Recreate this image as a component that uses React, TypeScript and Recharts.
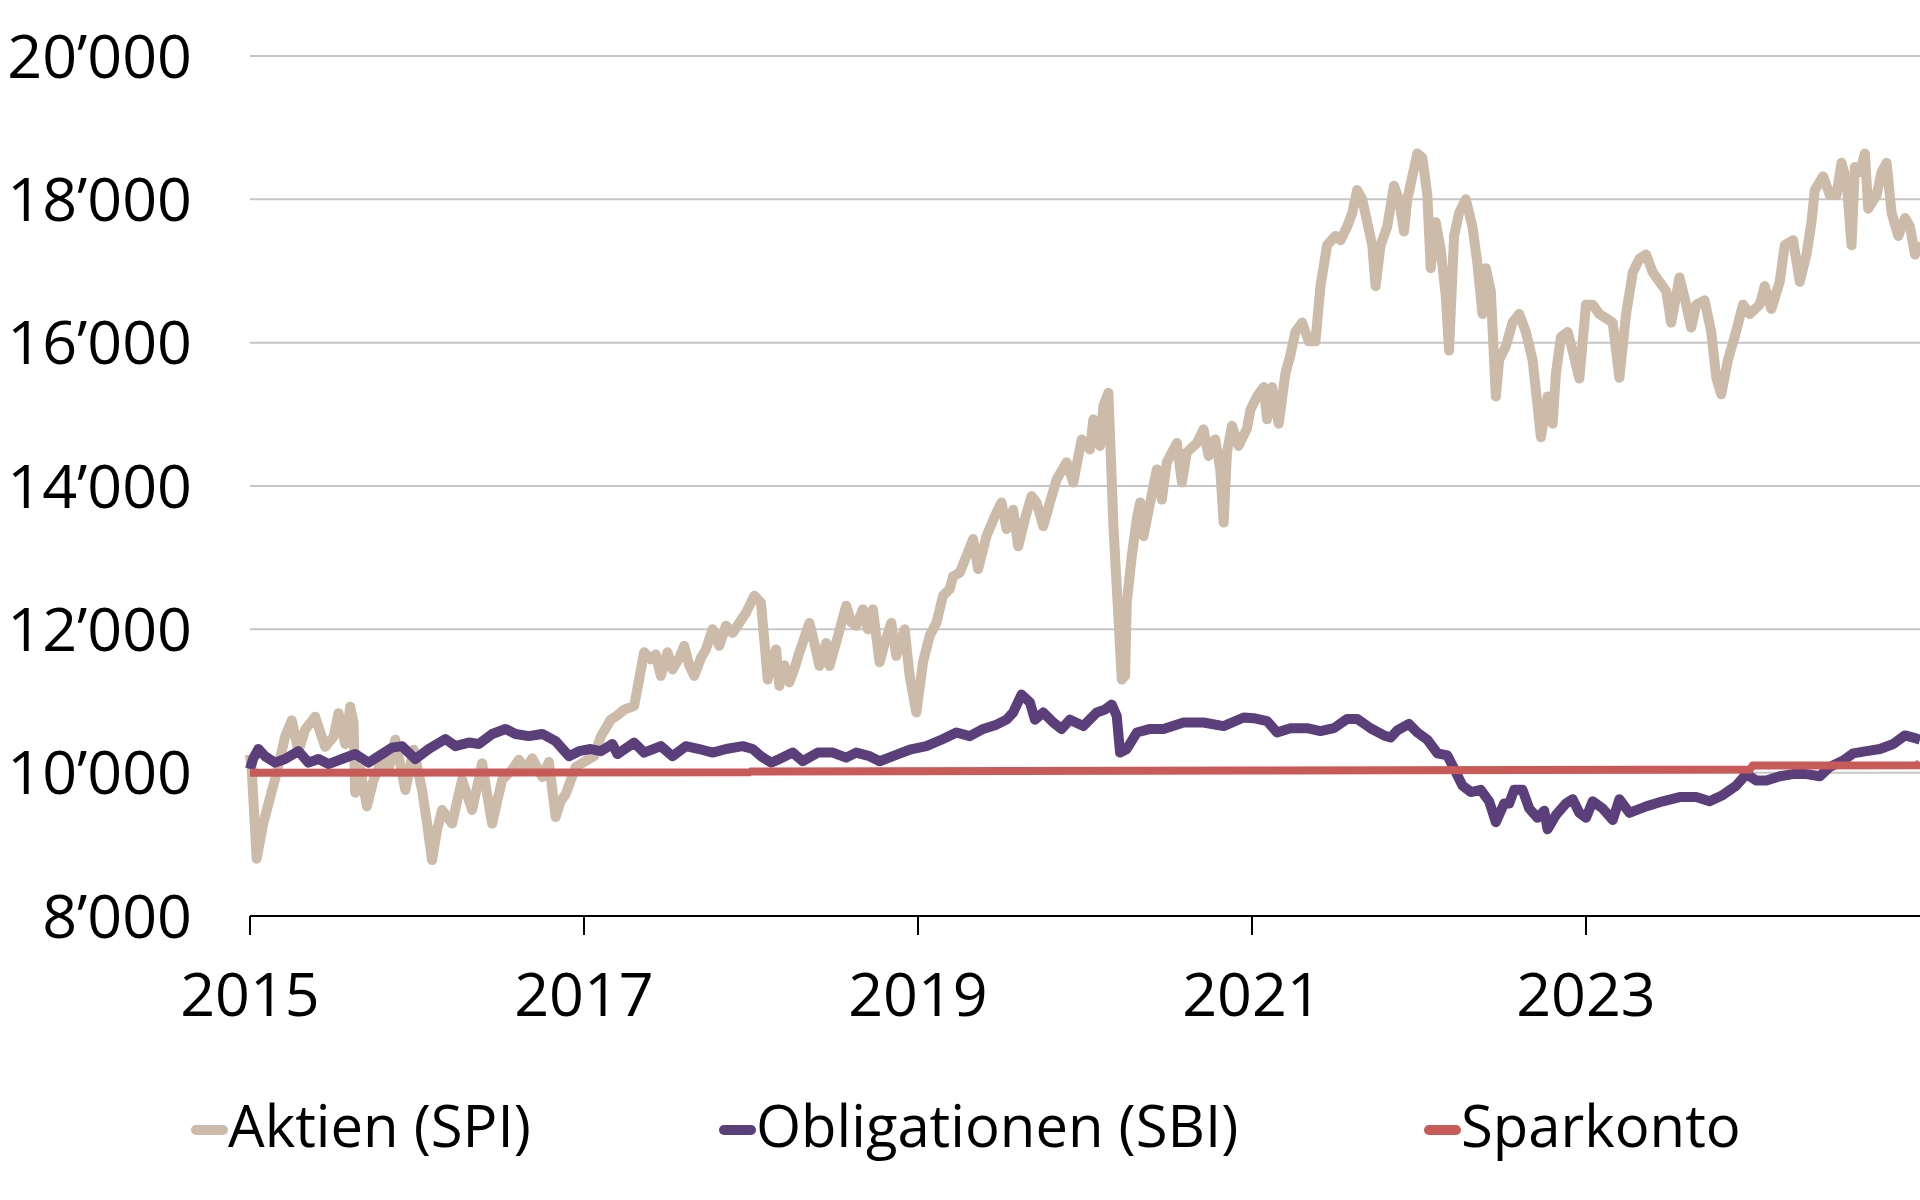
import { LineChart, Line, XAxis, YAxis, CartesianGrid } from "recharts";

const FONT = "'Open Sans', 'Noto Sans', sans-serif";

// x positions are decimal years
const spiYears = [
  2015.0, 2015.01, 2015.04, 2015.08, 2015.12, 2015.16, 2015.21, 2015.25, 2015.29, 2015.33,
  2015.39, 2015.45, 2015.5, 2015.53, 2015.57, 2015.6, 2015.62, 2015.63, 2015.66, 2015.7,
  2015.74, 2015.79, 2015.83, 2015.87, 2015.93, 2015.98, 2016.03, 2016.06, 2016.09, 2016.12,
  2016.15, 2016.21, 2016.24, 2016.27, 2016.33, 2016.36, 2016.39, 2016.42, 2016.45, 2016.48,
  2016.51, 2016.57, 2016.61, 2016.65, 2016.69, 2016.75, 2016.79, 2016.83, 2016.86, 2016.89,
  2016.95, 2017.0, 2017.06, 2017.1, 2017.16, 2017.2, 2017.24, 2017.3, 2017.33, 2017.36,
  2017.4, 2017.43, 2017.46, 2017.5, 2017.53, 2017.57, 2017.6, 2017.63, 2017.66, 2017.7,
  2017.73, 2017.77, 2017.81, 2017.85, 2017.89, 2017.93, 2017.97, 2018.02, 2018.06, 2018.1,
  2018.13, 2018.15, 2018.17, 2018.2, 2018.23, 2018.26, 2018.29, 2018.35, 2018.38, 2018.41,
  2018.45, 2018.47, 2018.52, 2018.57, 2018.6, 2018.63, 2018.67, 2018.7, 2018.73, 2018.77,
  2018.8, 2018.84, 2018.87, 2018.92, 2018.95, 2018.99, 2019.03, 2019.07, 2019.11, 2019.15,
  2019.19, 2019.21, 2019.25, 2019.29, 2019.33, 2019.36, 2019.41, 2019.46, 2019.5, 2019.53,
  2019.57, 2019.6, 2019.64, 2019.68, 2019.71, 2019.75, 2019.79, 2019.83, 2019.89, 2019.93,
  2019.98, 2020.03, 2020.05, 2020.09, 2020.11, 2020.14, 2020.16, 2020.17, 2020.19, 2020.22,
  2020.24, 2020.25, 2020.28, 2020.31, 2020.33, 2020.35, 2020.39, 2020.43, 2020.46, 2020.49,
  2020.55, 2020.58, 2020.61, 2020.67, 2020.71, 2020.74, 2020.78, 2020.81, 2020.83, 2020.85,
  2020.88, 2020.92, 2020.97, 2020.99, 2021.03, 2021.07, 2021.09, 2021.12, 2021.16, 2021.2,
  2021.23, 2021.26, 2021.3, 2021.34, 2021.38, 2021.41, 2021.45, 2021.5, 2021.53, 2021.57,
  2021.6, 2021.63, 2021.66, 2021.69, 2021.72, 2021.74, 2021.77, 2021.81, 2021.85, 2021.88,
  2021.91, 2021.93, 2021.96, 2021.99, 2022.02, 2022.05, 2022.07, 2022.1, 2022.13, 2022.16,
  2022.18, 2022.21, 2022.24, 2022.28, 2022.32, 2022.35, 2022.38, 2022.4, 2022.43, 2022.46,
  2022.48, 2022.52, 2022.56, 2022.6, 2022.64, 2022.68, 2022.71, 2022.73, 2022.77, 2022.8,
  2022.82, 2022.85, 2022.89, 2022.92, 2022.96, 2023.0, 2023.04, 2023.08, 2023.12, 2023.16,
  2023.2, 2023.24, 2023.28, 2023.32, 2023.36, 2023.4, 2023.44, 2023.48, 2023.51, 2023.56,
  2023.6, 2023.63, 2023.66, 2023.71, 2023.75, 2023.78, 2023.81, 2023.85, 2023.89, 2023.94,
  2023.98, 2024.04, 2024.07, 2024.11, 2024.16, 2024.19, 2024.24, 2024.28, 2024.32, 2024.35,
  2024.37, 2024.42, 2024.46, 2024.5, 2024.53, 2024.56, 2024.59, 2024.61, 2024.64, 2024.67,
  2024.69, 2024.74, 2024.77, 2024.8, 2024.83, 2024.87, 2024.91, 2024.94, 2024.97, 2025.0,
];

const spiValues = [
  10250, 10050, 8800, 9300, 9650, 10000, 10500, 10730, 10300, 10600,
  10780, 10360, 10500, 10830, 10400, 10920, 10700, 9720, 10050, 9530,
  9900, 10180, 10050, 10460, 9760, 10320, 9760, 9300, 8780, 9200,
  9480, 9290, 9600, 9900, 9480, 9800, 10130, 9700, 9290, 9600,
  9900, 10040, 10180, 10050, 10200, 9940, 10150, 9380, 9600, 9700,
  10080, 10150, 10230, 10500, 10740, 10800, 10880, 10930, 11300, 11680,
  11580, 11650, 11350, 11680, 11440, 11600, 11770, 11500, 11350, 11600,
  11720, 12000, 11770, 12050, 11950, 12090, 12230, 12470, 12370, 11300,
  11600, 11720, 11210, 11500, 11260, 11450, 11680, 12090, 11800, 11490,
  11810, 11490, 11900, 12330, 12100, 12050, 12280, 12000, 12280, 11540,
  11800, 12090, 11630, 12000, 11350, 10840, 11540, 11910, 12090, 12470,
  12560, 12740, 12790, 13020, 13260, 12840, 13300, 13580, 13770, 13400,
  13670, 13160, 13540, 13860, 13770, 13440, 13770, 14090, 14330, 14050,
  14650, 14510, 14930, 14560, 15120, 15300, 14090, 13440, 12600, 11300,
  11350, 12370, 13020, 13540, 13770, 13300, 13770, 14230, 13810, 14330,
  14600, 14050, 14470, 14600, 14790, 14420, 14650, 14230, 13490, 14470,
  14840, 14560, 14800, 15060, 15250, 15380, 14930, 15380, 14870, 15570,
  15830, 16150, 16280, 16020, 16020, 16790, 17360, 17490, 17430, 17620,
  17810, 18130, 18000, 17680, 17360, 16790, 17360, 17620, 18190, 18000,
  17550, 18000, 18320, 18640, 18580, 18060, 17040, 17680, 17300, 16660,
  15890, 17490, 17810, 18000, 17620, 17100, 16400, 17040, 16720, 15250,
  15760, 15950, 16280, 16400, 16150, 15760, 15120, 14680, 15250, 14870,
  15570, 16080, 16150, 15890, 15500, 16530, 16530, 16400, 16340, 16280,
  15510, 16400, 16980, 17170, 17230, 16980, 16850, 16720, 16280, 16910,
  16530, 16210, 16530, 16590, 16150, 15510, 15280, 15760, 16080, 16530,
  16400, 16530, 16790, 16470, 16850, 17360, 17430, 16850, 17230, 17680,
  18130, 18320, 18060, 18060, 18510, 18260, 17360, 18450, 18380, 18640,
  17870, 18060, 18380, 18510, 17810, 17490, 17740, 17620, 17230, 17400,
];

const sbiYears = [
  2015.0, 2015.02, 2015.05, 2015.09, 2015.15, 2015.21, 2015.29, 2015.35, 2015.41, 2015.47,
  2015.55, 2015.63, 2015.71, 2015.77, 2015.85, 2015.91, 2015.99, 2016.07, 2016.17, 2016.23,
  2016.31, 2016.37, 2016.45, 2016.53, 2016.59, 2016.67, 2016.75, 2016.83, 2016.91, 2016.97,
  2017.04, 2017.1, 2017.17, 2017.2, 2017.3, 2017.36, 2017.46, 2017.53, 2017.61, 2017.69,
  2017.77, 2017.85, 2017.95, 2018.01, 2018.06, 2018.12, 2018.17, 2018.25, 2018.31, 2018.4,
  2018.49, 2018.57, 2018.63, 2018.71, 2018.77, 2018.85, 2018.95, 2019.05, 2019.15, 2019.23,
  2019.31, 2019.39, 2019.47, 2019.53, 2019.57, 2019.62, 2019.67, 2019.7, 2019.75, 2019.81,
  2019.86, 2019.91, 2019.99, 2020.07, 2020.12, 2020.16, 2020.19, 2020.21, 2020.25, 2020.31,
  2020.39, 2020.47, 2020.59, 2020.71, 2020.83, 2020.95, 2021.01, 2021.09, 2021.15, 2021.23,
  2021.33, 2021.41, 2021.49, 2021.57, 2021.63, 2021.71, 2021.79, 2021.83, 2021.87, 2021.94,
  2021.99, 2022.05, 2022.11, 2022.17, 2022.22, 2022.26, 2022.31, 2022.37, 2022.42, 2022.46,
  2022.51, 2022.54, 2022.57, 2022.62, 2022.66, 2022.71, 2022.75, 2022.77, 2022.82, 2022.88,
  2022.92, 2022.96, 2023.0, 2023.04, 2023.1, 2023.16, 2023.2, 2023.26, 2023.36, 2023.46,
  2023.56, 2023.66, 2023.74, 2023.82, 2023.9, 2023.96, 2024.02, 2024.08, 2024.16, 2024.24,
  2024.32, 2024.4, 2024.46, 2024.54, 2024.6, 2024.68, 2024.76, 2024.84, 2024.91, 2024.96,
  2025.0,
];

const sbiValues = [
  10050, 10200, 10330, 10230, 10140, 10190, 10300, 10140, 10190, 10120,
  10190, 10260, 10140, 10230, 10350, 10370, 10190, 10330, 10470, 10370,
  10420, 10400, 10540, 10610, 10540, 10510, 10540, 10440, 10230, 10300,
  10330, 10300, 10400, 10260, 10420, 10280, 10370, 10230, 10370, 10330,
  10280, 10330, 10370, 10330, 10230, 10140, 10190, 10280, 10160, 10280,
  10280, 10210, 10280, 10230, 10160, 10230, 10320, 10370, 10470, 10560,
  10510, 10610, 10670, 10740, 10840, 11090, 10980, 10740, 10840, 10700,
  10610, 10740, 10650, 10840, 10880, 10950, 10790, 10280, 10330, 10560,
  10610, 10610, 10700, 10700, 10650, 10770, 10760, 10720, 10560, 10620,
  10620, 10580, 10620, 10750, 10750, 10620, 10520, 10490, 10590, 10680,
  10560, 10460, 10270, 10240, 10010, 9820, 9730, 9760, 9600, 9310,
  9570, 9570, 9760, 9760, 9500, 9370, 9470, 9210, 9410, 9570,
  9630, 9440, 9370, 9600, 9500, 9340, 9630, 9440, 9530, 9600,
  9660, 9660, 9600, 9690, 9820, 9980, 9890, 9890, 9950, 9980,
  9980, 9950, 10080, 10170, 10270, 10300, 10330, 10400, 10520, 10490,
  10460,
];

const sparYears = [2015.0, 2017.99, 2018.0, 2021.0, 2023.98, 2024.0, 2024.99, 2025.0];
const sparValues = [10000, 10005, 10015, 10030, 10045, 10100, 10105, 10150];

const seriesNames = ["Aktien (SPI)", "Obligationen (SBI)", "Sparkonto"];
const seriesColors = ["#cbbba8", "#5b3f7a", "#c85a58"];

const xTicks = [2015, 2017, 2019, 2021, 2023];
const yTicks = [8000, 10000, 12000, 14000, 16000, 18000, 20000];

const toRows = (xs: number[], vs: number[]) => xs.map((t, i) => ({ t, v: vs[i] }));

const spiData = toRows(spiYears, spiValues);
const sbiData = toRows(sbiYears, sbiValues);
const sparData = toRows(sparYears, sparValues);

function formatThousands(value: number): string {
  const k = Math.floor(value / 1000);
  const rest = String(value % 1000).padStart(3, "0");
  return `${k}\u2019${rest}`;
}

const legendLeft = [191, 719, 1424];

export default function App() {
  const tickStyle = { fill: "#000", fontSize: 61, fontFamily: FONT };

  return (
    <div
      style={{
        position: "absolute",
        left: 0,
        top: 0,
        width: 1920,
        height: 1200,
        background: "#fff",
        overflow: "hidden",
      }}
    >
      <LineChart
        width={1920}
        height={1200}
        margin={{ top: 56, right: 0, bottom: 184, left: 0 }}
      >
        <CartesianGrid vertical={false} stroke="#c6c6c6" strokeWidth={2} />
        <XAxis
          dataKey="t"
          type="number"
          domain={[2015, 2025]}
          ticks={xTicks}
          height={100}
          tickSize={19}
          tickMargin={38}
          axisLine={{ stroke: "#000", strokeWidth: 2 }}
          tickLine={{ stroke: "#000", strokeWidth: 2 }}
          tick={tickStyle}
          allowDuplicatedCategory={false}
        />
        <YAxis
          type="number"
          domain={[8000, 20000]}
          ticks={yTicks}
          width={250}
          tickSize={0}
          tickMargin={58}
          axisLine={false}
          tickLine={false}
          tick={tickStyle}
          tickFormatter={formatThousands}
        />
        <Line
          data={spiData}
          dataKey="v"
          name={seriesNames[0]}
          type="linear"
          stroke={seriesColors[0]}
          strokeWidth={10}
          strokeLinejoin="round"
          dot={false}
          isAnimationActive={false}
        />
        <Line
          data={sbiData}
          dataKey="v"
          name={seriesNames[1]}
          type="linear"
          stroke={seriesColors[1]}
          strokeWidth={10}
          strokeLinejoin="round"
          dot={false}
          isAnimationActive={false}
        />
        <Line
          data={sparData}
          dataKey="v"
          name={seriesNames[2]}
          type="linear"
          stroke={seriesColors[2]}
          strokeWidth={8}
          dot={false}
          isAnimationActive={false}
        />
      </LineChart>

      {seriesNames.map((name, i) => (
        <div
          key={name}
          style={{
            position: "absolute",
            left: legendLeft[i],
            top: 1096,
            display: "flex",
            alignItems: "flex-start",
            fontFamily: FONT,
            fontSize: 58,
            lineHeight: 1,
            color: "#000",
            whiteSpace: "nowrap",
          }}
        >
          <span
            style={{
              display: "inline-block",
              width: 37,
              height: 10,
              marginTop: 29,
              borderRadius: 5,
              background: seriesColors[i],
            }}
          />
          <span>{name}</span>
        </div>
      ))}
    </div>
  );
}
